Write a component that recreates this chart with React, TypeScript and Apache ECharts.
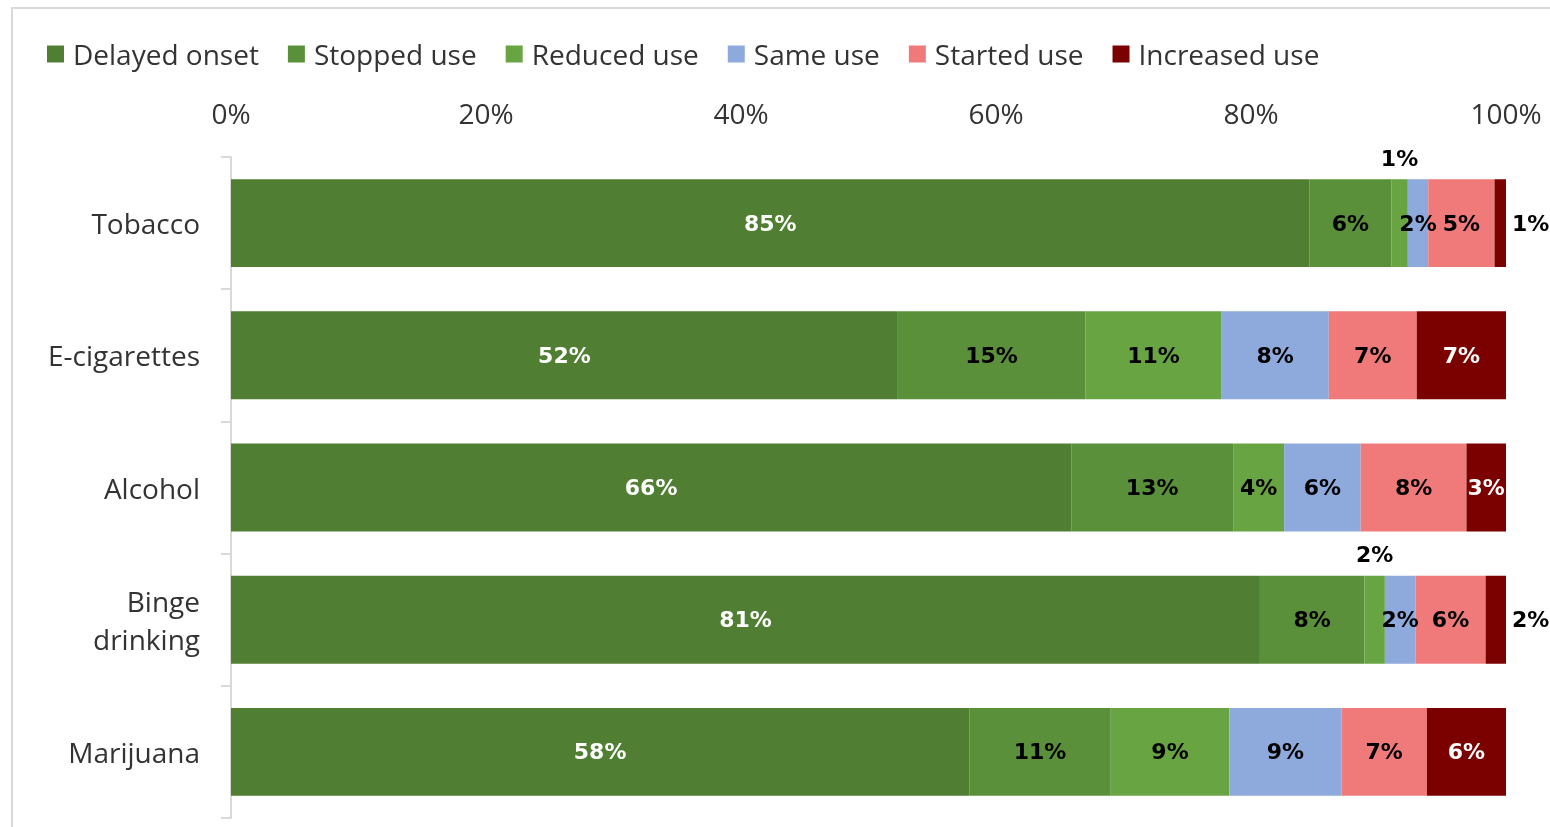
import React, { useEffect, useRef } from "react";
import * as echarts from "echarts";

const categories = ["Tobacco", "E-cigarettes", "Alcohol", "Binge\ndrinking", "Marijuana"];
const seriesNames = ["Delayed onset", "Stopped use", "Reduced use", "Same use", "Started use", "Increased use"];
const delayedOnset = [84.6, 52.3, 65.9, 80.7, 57.9];
const stoppedUse = [6.4, 14.7, 12.7, 8.2, 11.1];
const reducedUse = [1.3, 10.7, 4.0, 1.6, 9.3];
const sameUse = [1.6, 8.4, 6.0, 2.4, 8.8];
const startedUse = [5.2, 6.9, 8.3, 5.5, 6.7];
const increasedUse = [0.9, 7.0, 3.1, 1.6, 6.2];
const xTicks = [0, 20, 40, 60, 80, 100];

const colors = ["#507E32", "#5B903A", "#69A443", "#8EA9DB", "#F07A7A", "#7B0000"];
const labelColors = ["#FFFFFF", "#000000", "#000000", "#000000", "#000000", "#FFFFFF"];

export default function App() {
  const ref = useRef<HTMLDivElement>(null);
  useEffect(() => {
    if (!ref.current) return;
    const chart = echarts.init(ref.current, null, { renderer: "svg" });
    const allData = [delayedOnset, stoppedUse, reducedUse, sameUse, startedUse, increasedUse];
    const series = allData.map((arr, si) => ({
      name: seriesNames[si],
      type: "bar",
      stack: "total",
      barWidth: "66.5%",
      itemStyle: { color: colors[si] },
      label: {
        show: true,
        position: "inside",
        color: labelColors[si],
        fontFamily: "DejaVu Sans",
        fontWeight: "bold",
        fontSize: 22,
        formatter: (p: any) => Math.round(p.value) + "%",
      },
      data: arr.map((v) => {
        if (si === 2 && v < 2) {
          return { value: v, label: { position: "top", distance: 10, color: "#000" } };
        }
        if (si === 5 && v < 2) {
          return { value: v, label: { position: "right", distance: 6, color: "#000" } };
        }
        return v;
      }),
    }));
    chart.setOption({
      animation: false,
      graphic: [
        {
          type: "rect",
          shape: { x: 12, y: 8, width: 1560, height: 840 },
          style: { fill: "none", stroke: "#D9D9D9", lineWidth: 2 },
          silent: true,
        },
      ],
      legend: {
        left: 47,
        top: 40,
        padding: 0,
        itemWidth: 17,
        itemHeight: 17,
        itemGap: 29,
        icon: "rect",
        textStyle: { fontFamily: "Open Sans", fontSize: 28, color: "#333333", padding: [0, 0, 0, 4] },
        data: seriesNames,
      },
      grid: { left: 231, right: 44, top: 157, bottom: 9, containLabel: false },
      xAxis: {
        type: "value",
        position: "top",
        min: xTicks[0],
        max: xTicks[xTicks.length - 1],
        interval: 20,
        axisLine: { show: false },
        axisTick: { show: false },
        splitLine: { show: false },
        axisLabel: {
          formatter: (v: number) => v + "%",
          fontFamily: "Open Sans",
          fontSize: 28,
          color: "#333333",
          margin: 30,
        },
      },
      yAxis: {
        type: "category",
        inverse: true,
        data: categories,
        axisLine: { show: true, lineStyle: { color: "#D9D9D9", width: 2 } },
        axisTick: { show: true, length: 10, lineStyle: { color: "#D9D9D9", width: 2 } },
        axisLabel: {
          fontFamily: "Open Sans",
          fontSize: 28,
          color: "#333333",
          margin: 31,
          lineHeight: 38,
          align: "right",
        },
      },
      series,
    });
    return () => chart.dispose();
  }, []);
  return <div ref={ref} style={{ position: "fixed", left: 0, top: 0, width: 1550, height: 827 }} />;
}
